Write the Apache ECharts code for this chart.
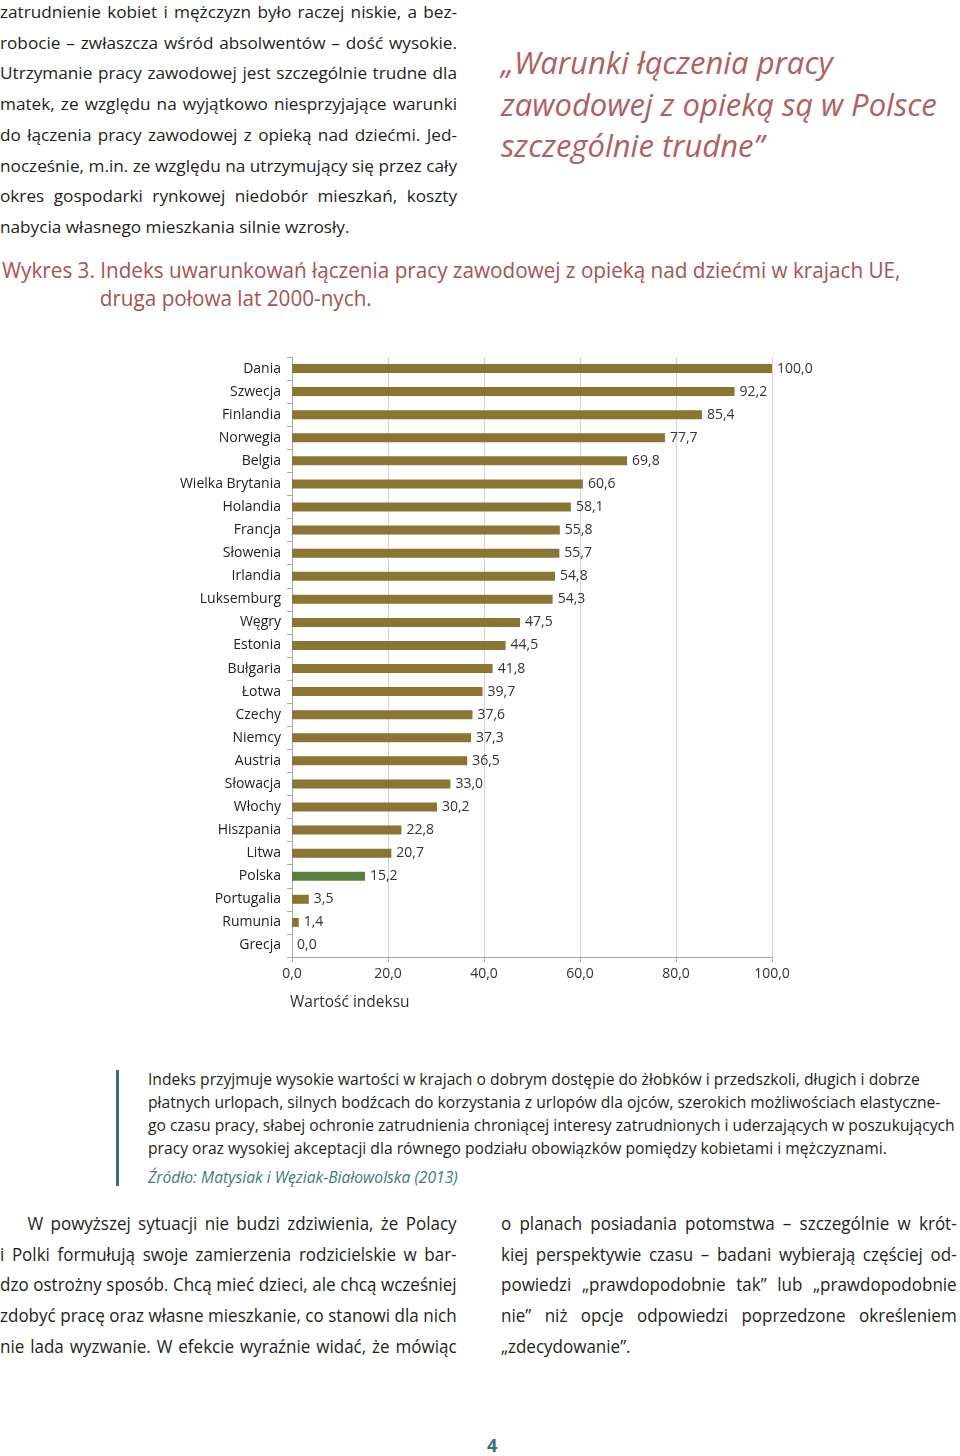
<!DOCTYPE html>
<html lang="pl">
<head>
<meta charset="utf-8">
<title>Wykres 3</title>
<script src="https://cdn.jsdelivr.net/npm/echarts@6/dist/echarts.min.js"></script>
<style>
  html, body { margin: 0; padding: 0; background: #fff; }
  body { width: 960px; height: 1456px; position: relative; overflow: hidden; color: #231f20; font-family: "Open Sans", sans-serif; }
  .abs { position: absolute; }
  .col { font-size: 17.2px; line-height: 30.7px; }
  .j { text-align: justify; text-align-last: justify; white-space: nowrap; }
  .l { text-align: left; white-space: nowrap; }
  .squeeze { transform-origin: 0 0; }
  .quote { font-style: italic; color: #b0605f; font-size: 31px; line-height: 41.5px; }
  .cap { color: #a8534f; font-size: 22px; line-height: 28px; white-space: nowrap; transform: scaleX(0.94); }
  .note { font-size: 16.4px; line-height: 23px; white-space: nowrap; transform: scaleX(0.955); }
  .bottom { font-size: 18.6px; transform: scaleX(0.915); }
</style>
</head>
<body>

<div class="abs col" style="left:0; top:-3px; width:457px;">
  <div class="j">zatrudnienie kobiet i mężczyzn było raczej niskie, a bez-</div>
  <div class="j">robocie – zwłaszcza wśród absolwentów – dość wysokie.</div>
  <div class="j">Utrzymanie pracy zawodowej jest szczególnie trudne dla</div>
  <div class="j">matek, ze względu na wyjątkowo niesprzyjające warunki</div>
  <div class="j">do łączenia pracy zawodowej z opieką nad dziećmi. Jed-</div>
  <div class="j">nocześnie, m.in. ze względu na utrzymujący się przez cały</div>
  <div class="j">okres gospodarki rynkowej niedobór mieszkań, koszty</div>
  <div class="l">nabycia własnego mieszkania silnie wzrosły.</div>
</div>

<div class="abs quote" style="left:501px; top:42px;">
  <div>„Warunki łączenia pracy</div>
  <div>zawodowej z opieką są w Polsce</div>
  <div>szczególnie trudne”</div>
</div>

<div class="abs cap squeeze" style="left:2px; top:255px;">
  <div>Wykres 3. Indeks uwarunkowań łączenia pracy zawodowej z opieką nad dziećmi w krajach UE,</div>
  <div style="padding-left:104px;">druga połowa lat 2000-nych.</div>
</div>

<div id="chart" class="abs" style="left:0; top:340px; width:960px; height:690px;"></div>

<div class="abs" style="left:116px; top:1070px; width:3px; height:116px; background:#3d6f70;"></div>
<div class="abs note squeeze" style="left:148px; top:1067px;">
  <div>Indeks przyjmuje wysokie wartości w krajach o dobrym dostępie do żłobków i przedszkoli, długich i dobrze</div>
  <div>płatnych urlopach, silnych bodźcach do korzystania z urlopów dla ojców, szerokich możliwościach elastyczne-</div>
  <div>go czasu pracy, słabej ochronie zatrudnienia chroniącej interesy zatrudnionych i uderzających w poszukujących</div>
  <div>pracy oraz wysokiej akceptacji dla równego podziału obowiązków pomiędzy kobietami i mężczyznami.</div>
  <div style="color:#3f7b7b; font-style:italic; margin-top:6px;">Źródło: Matysiak i Węziak-Białowolska (2013)</div>
</div>

<div class="abs col squeeze bottom" style="left:0; top:1208px; width:499px;">
  <div class="j" style="padding-left:30px;">W powyższej sytuacji nie budzi zdziwienia, że Polacy</div>
  <div class="j">i Polki formułują swoje zamierzenia rodzicielskie w bar-</div>
  <div class="j">dzo ostrożny sposób. Chcą mieć dzieci, ale chcą wcześniej</div>
  <div class="j">zdobyć pracę oraz własne mieszkanie, co stanowi dla nich</div>
  <div class="j">nie lada wyzwanie. W efekcie wyraźnie widać, że mówiąc</div>
</div>

<div class="abs col squeeze bottom" style="left:501px; top:1208px; width:498px;">
  <div class="j">o planach posiadania potomstwa – szczególnie w krót-</div>
  <div class="j">kiej perspektywie czasu – badani wybierają częściej od-</div>
  <div class="j">powiedzi „prawdopodobnie tak” lub „prawdopodobnie</div>
  <div class="j">nie” niż opcje odpowiedzi poprzedzone określeniem</div>
  <div class="l">„zdecydowanie”.</div>
</div>

<div class="abs" style="left:487px; top:1433px; font-size:18px; font-weight:bold; color:#3a6f73;">4</div>

<script>
const countries = ['Dania', 'Szwecja', 'Finlandia', 'Norwegia', 'Belgia', 'Wielka Brytania', 'Holandia',
  'Francja', 'Słowenia', 'Irlandia', 'Luksemburg', 'Węgry', 'Estonia', 'Bułgaria', 'Łotwa', 'Czechy',
  'Niemcy', 'Austria', 'Słowacja', 'Włochy', 'Hiszpania', 'Litwa', 'Polska', 'Portugalia', 'Rumunia', 'Grecja']
const indexValues = [100.0, 92.2, 85.4, 77.7, 69.8, 60.6, 58.1, 55.8, 55.7, 54.8, 54.3, 47.5, 44.5, 41.8,
  39.7, 37.6, 37.3, 36.5, 33.0, 30.2, 22.8, 20.7, 15.2, 3.5, 1.4, 0.0]
const highlight = 'Polska'

const fmt = v => v.toFixed(1).replace('.', ',')
const font = '"Open Sans", sans-serif'

const chart = echarts.init(document.getElementById('chart'), null, { renderer: 'canvas' })
chart.setOption({
  animation: false,
  textStyle: { fontFamily: font },
  grid: { left: 292, width: 480, top: 17, height: 600 },
  xAxis: {
    type: 'value',
    min: 0,
    max: 100,
    interval: 20,
    axisLine: { show: true, lineStyle: { color: '#a9a9a9' } },
    axisTick: { show: true, length: 5, lineStyle: { color: '#a9a9a9' } },
    splitLine: { lineStyle: { color: '#d2d2d2' } },
    axisLabel: { formatter: fmt, color: '#333', fontSize: 14, margin: 10, fontFamily: font },
  },
  yAxis: {
    type: 'category',
    inverse: true,
    data: countries,
    axisLine: { show: true, lineStyle: { color: '#a9a9a9' } },
    axisTick: { show: true, length: 5, lineStyle: { color: '#a9a9a9' } },
    axisLabel: { color: '#222', fontSize: 14, margin: 11, fontFamily: font },
  },
  graphic: [{
    type: 'text',
    left: 290,
    top: 655,
    style: { text: 'Wartość indeksu', fill: '#333', font: '15.5px ' + font },
  }],
  series: [{
    type: 'bar',
    barWidth: 9,
    data: indexValues.map((v, i) => ({
      value: v,
      itemStyle: { color: countries[i] === highlight ? '#5b7f3c' : '#8b7533' },
    })),
    label: {
      show: true,
      position: 'right',
      distance: 5,
      formatter: p => fmt(p.value),
      color: '#333',
      fontSize: 14,
      fontFamily: font,
    },
  }],
})
</script>
</body>
</html>
